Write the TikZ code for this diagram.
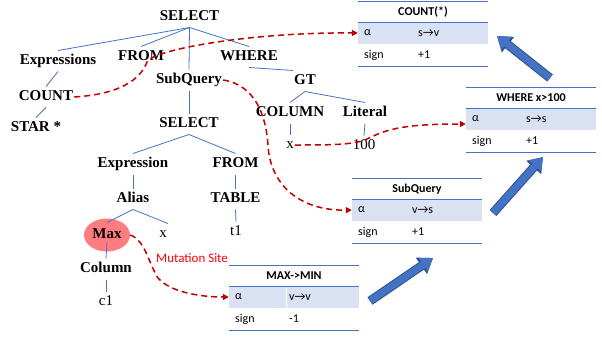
\documentclass[tikz,border=0pt]{standalone}
\usepackage{fontspec}
\setmainfont{Liberation Serif}
\newfontfamily\calfont{Carlito}
\usepackage{tikz}
\usetikzlibrary{arrows.meta,shapes.geometric}

\definecolor{lineblue}{HTML}{4472C4}
\definecolor{rowblue}{HTML}{D9E1F2}
\definecolor{dashred}{HTML}{C00000}
\definecolor{maxred}{HTML}{FF7C80}
\definecolor{arrowedge}{HTML}{2F528F}

% name, left, top, title, alpha entry, sign entry
\newcommand{\valtab}[6]{%
	\node[tabrow] (#1) at ({#2+65},{#3+32}) {};
	\draw[tabline] (#2,#3) -- ++(130,0);
	\draw[tabline] (#2,{#3+21}) -- ++(130,0);
	\draw[tabline] (#2,{#3+65}) -- ++(130,0);
	\node[tabtitle] (#1-t) at ({#2+65},{#3+11}) {#4};
	\node[tabtxt] (#1-a) at ({#2+6},{#3+32}) {α};
	\node[tabtxt] (#1-m) at ({#2+60},{#3+32}) {#5};
	\node[tabtxt] (#1-s) at ({#2+6},{#3+54}) {sign};
	\node[tabtxt] (#1-v) at ({#2+60},{#3+54}) {#6};
}

\begin{document}
\begin{tikzpicture}[x=1pt,y=-1pt,
		kw/.style={font=\fontsize{15}{18}\selectfont\bfseries, text height=10pt, text depth=3pt, inner sep=1pt, outer ysep=3pt},
		leaf/.style={kw, font=\fontsize{15}{18}\selectfont},
		maxnode/.style={kw, ellipse, fill=maxred, minimum width=46pt, minimum height=33pt, inner sep=0pt, outer ysep=0pt},
		edge/.style={draw=lineblue, line width=0.8pt},
		tabline/.style={draw=lineblue, line width=0.9pt},
		tabrow/.style={fill=rowblue, minimum width=130pt, minimum height=22pt, inner sep=0pt},
		tabtitle/.style={font=\calfont\fontsize{12}{14}\selectfont\bfseries, inner sep=0pt},
		tabtxt/.style={font=\calfont\fontsize{12}{14}\selectfont, anchor=west, inner sep=0pt},
		mut/.style={draw=dashred, line width=1.5pt, dash pattern=on 6pt off 4pt, -{Triangle[length=6pt,width=6pt]}},
		bigarrow/.style={preaction={draw=arrowedge, line width=9pt, -{Triangle[length=14pt,width=19pt]}}, draw=lineblue, line width=7pt, -{Triangle[length=12pt,width=16pt]}}]
	\useasboundingbox (0,0) rectangle (602,337);
	
	%tables
	\valtab{cnt}{358}{1}{COUNT(*)}{s→v}{+1}
	\valtab{whr}{466}{87}{WHERE x>100}{s→s}{+1}
	\valtab{sqt}{352}{178}{SubQuery}{v→s}{+1}
	\valtab{mxt}{229}{265}{MAX->MIN}{v→v}{-1}
	\draw[white, line width=1pt] (286,288) -- (286,309);
	
	%outer query
	\node[kw] (sel) at (189.5,17) {SELECT};
	\node[kw] (exprs) at (58,61) {Expressions};
	\node[kw] (from) at (141,57) {FROM};
	\node[kw] (sq) at (189,80) {SubQuery};
	\node[kw] (where) at (249,57) {WHERE};
	\node[kw] (count) at (46,97) {COUNT};
	\node[kw] (star) at (36,128) {STAR *};
	\node[kw] (gt) at (305,81) {GT};
	\node[kw] (col) at (290,113) {COLUMN};
	\node[kw] (lit) at (365,113) {Literal};
	\node[leaf] (colx) at (290,145) {x};
	\node[leaf] (litv) at (364,146) {100};
	
	%sub query
	\node[kw] (sel2) at (189,124) {SELECT};
	\node[kw] (expr) at (133,164) {Expression};
	\node[kw] (from2) at (235.5,164) {FROM};
	\node[kw] (alias) at (133,199) {Alias};
	\node[kw] (tab) at (235.5,199) {TABLE};
	\node[maxnode] (mx) at (107,235) {Max};
	\node[leaf] (ax) at (163,234) {x};
	\node[leaf] (t1) at (236,232) {t1};
	\node[kw] (column) at (106,269) {Column};
	\node[leaf] (c1) at (106,302) {c1};
	
	\foreach \a/\b in {sel/exprs,sel/from,sel/sq,sel/where,exprs/count,count/star,gt/col,gt/lit,col/colx,lit/litv,sq/sel2,sel2/expr,sel2/from2,expr/alias,from2/tab,tab/t1,column/c1}
		\draw[edge] (\a.south) -- (\b.north);
	\draw[edge] (where.south) -- (gt.north west);
	\draw[edge] (alias.south) -- ([yshift=-4pt]mx.north);
	\draw[edge] (alias.south) -- (ax.north east);
	\draw[edge] ([yshift=9pt]mx.south) -- (column.north);
	
	%mutation paths
	\node[font=\calfont\fontsize{13}{15}\selectfont, text=red, anchor=west, inner sep=0pt] (ms) at (156,258) {Mutation Site};
	\draw[mut] (mx.east) .. controls (145,240) and (148,262) .. (158,278) .. controls (170,292) and (200,297) .. (mxt.west);
	\draw[mut] (sq.east) .. controls (255,85) and (266,115) .. (268,145) .. controls (270,185) and (300,211) .. (sqt.west);
	\draw[mut] (colx.east) .. controls (330,145) and (350,145) .. (365,140) .. controls (385,130) and (400,124) .. ([yshift=-5pt]whr.west);
	\draw[mut] (count.east) .. controls (120,94) and (140,80) .. (147,62) .. controls (152,50) and (250,32) .. (cnt.west);
	
	%propagation
	\coordinate (p1) at (370,301);
	\coordinate (p2) at (433,258);
	\coordinate (p3) at (493,213);
	\coordinate (p4) at (543,157);
	\coordinate (p5) at (550,78);
	\coordinate (p6) at (497,36);
	\draw[bigarrow] (p1) -- (p2);
	\draw[bigarrow] (p3) -- (p4);
	\draw[bigarrow] (p5) -- (p6);
\end{tikzpicture}
\end{document}
